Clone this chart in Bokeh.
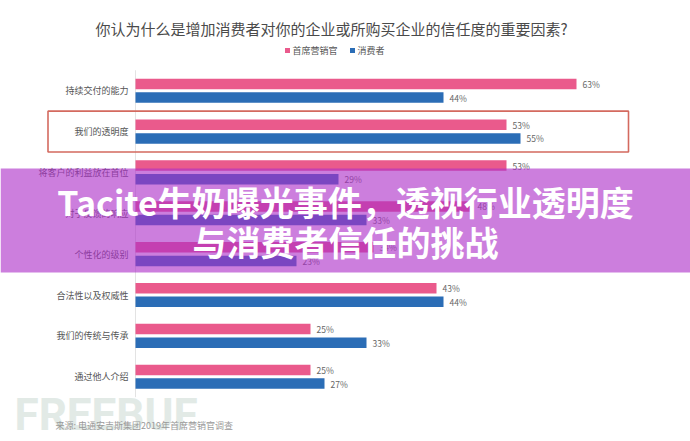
from bokeh.plotting import figure
from bokeh.models import Range1d, Label, ColumnDataSource
from bokeh.core.properties import value
from bokeh.embed import file_html
from bokeh.resources import INLINE

# ---- data ----
categories = ["持续交付的能力", "我们的透明度", "将客户的利益放在首位", "对于反馈的响应",
              "个性化的级别", "合法性以及权威性", "我们的传统与传承", "通过他人介绍"]
cmo = [63, 53, 53, 48, 34, 43, 25, 25]        # 首席营销官
consumer = [44, 55, 29, 33, 23, 44, 33, 27]   # 消费者
series_names = ["首席营销官", "消费者"]
title_text = "你认为什么是增加消费者对你的企业或所购买企业的信任度的重要因素?"
source_text = "来源: 电通安吉斯集团2019年首席营销官调查"
banner_lines = ["Tacite牛奶曝光事件，透视行业透明度", "与消费者信任的挑战"]
highlight = "我们的透明度"

PINK = "#ea5a8c"
BLUE = "#2b6db6"
FONT = "Noto Sans CJK SC"

# ---- layout helpers (image px -> data) ----
W, H = 690, 441
X0, XS = 135.0, 7.0          # image px of 0%, px per %
Y0, YS = 90.2, 40.86         # image px of first row centre, px per row


def dx(px):
    return (px - X0) / XS


def dy(py):
    return (py - Y0) / YS


p = figure(width=W, height=H, output_backend="svg", toolbar_location=None,
           x_range=Range1d(dx(0), dx(W)), y_range=Range1d(dy(H), dy(0)),
           x_axis_location=None, y_axis_location=None, min_border=0,
           outline_line_color=None, background_fill_color="white",
           border_fill_color="white")
p.xgrid.visible = False
p.ygrid.visible = False

n = len(categories)
idx = list(range(n))
off, bh = 0.167, 0.257

src = ColumnDataSource(dict(
    cat=categories, y=idx,
    y1=[i - off for i in idx], y2=[i + off for i in idx],
    cmo=cmo, con=consumer,
    cmo_t=[f"{v}%" for v in cmo], con_t=[f"{v}%" for v in consumer],
))

# axis line
p.segment(x0=0, x1=0, y0=-0.5, y1=n - 0.5, line_color="#e3e3e3", line_width=1)

# highlight box around the transparency row
hi = categories.index(highlight)
p.quad(left=dx(47.5), right=dx(628), top=hi - 0.5, bottom=hi + 0.5,
       fill_color=None, line_color="#d46a5f", line_width=1.6)

# bars
p.hbar(y="y1", left=0, right="cmo", height=bh, source=src, fill_color=PINK, line_color=None)
p.hbar(y="y2", left=0, right="con", height=bh, source=src, fill_color=BLUE, line_color=None)

# value labels
lbl = dict(text_font=value(FONT), text_font_size="8.5px", text_color="#666666",
           text_baseline="middle", x_offset=6)
p.text(x="cmo", y="y1", text="cmo_t", source=src, **lbl)
p.text(x="con", y="y2", text="con_t", source=src, **lbl)

# category labels
p.text(x=0, y="y", text="cat", source=src, x_offset=-7, text_align="right",
       text_baseline="middle", text_font=value(FONT), text_font_size="9px",
       text_color="#555555")

# title
p.add_layout(Label(x=dx(95), y=dy(28), text=title_text, text_font=FONT,
                   text_font_size="15px", text_color="#4a4a4a",
                   text_baseline="middle", text_align="left"))

# legend
leg_x = [dx(287), dx(352)]
leg_y = dy(50)
p.scatter(x=leg_x, y=[leg_y, leg_y], marker="square", size=5,
          fill_color=[PINK, BLUE], line_color=None)
for lx, name in zip(leg_x, series_names):
    p.add_layout(Label(x=lx, y=leg_y, x_offset=5, text=name, text_font=FONT,
                       text_font_size="9px", text_color="#555555",
                       text_baseline="middle"))

# watermark
p.add_layout(Label(x=dx(14), y=dy(414), text="FREEBUF", text_font="Roboto",
                   text_font_style="bold", text_font_size="44px",
                   text_color="#e2eae6", text_baseline="middle"))

# source
p.add_layout(Label(x=dx(55), y=dy(425), text=source_text, text_font=FONT,
                   text_font_size="9px", text_color="#9a9a9a", text_baseline="middle"))

# banner overlay
p.quad(left=dx(0), right=dx(W), top=dy(168), bottom=dy(272),
       fill_color="#ad2fc8", fill_alpha=0.62, line_color=None)
for ly, t in zip([dy(201), dy(241)], banner_lines):
    p.add_layout(Label(x=dx(345), y=ly, text=t, text_font=FONT, text_font_style="bold",
                       text_font_size="34px", text_color="white",
                       text_align="center", text_baseline="middle"))

open("out.html", "w").write(file_html(p, INLINE))
